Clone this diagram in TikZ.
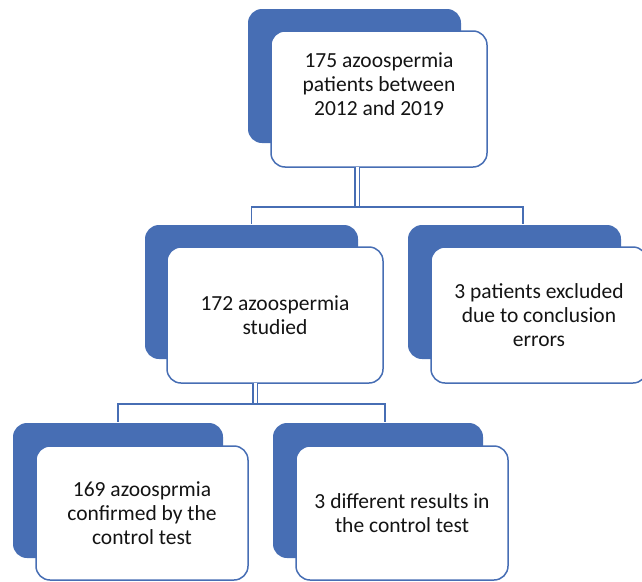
\documentclass[tikz,border=0pt]{standalone}
\usepackage{fontspec}
\setmainfont{Carlito}
\definecolor{acc}{RGB}{71,110,180}
\definecolor{ink}{RGB}{20,20,20}
\begin{document}
\begin{tikzpicture}[x=1pt,y=-1pt,
  back/.style={fill=acc, draw=none, rounded corners=14pt, minimum width=213pt, minimum height=134pt, inner sep=0pt, outer sep=0pt},
  front/.style={fill=white, draw=acc, line width=1.5pt, rounded corners=14pt, minimum width=216pt, minimum height=136pt, inner sep=0pt, outer sep=0pt},
  txt/.style={font=\fontsize{21.5}{24.2}\selectfont, align=center, text=ink},
  conn/.style={draw=acc, line width=1.8pt},
  dbl/.style={draw=acc, line width=1.5pt, double=white, double distance=3pt}]
\useasboundingbox (0,0) rectangle (642,581);

% back (blue) boxes
\node[back] (b1) at (354.5,76) {};
\node[back] (b2) at (251.5,292) {};
\node[back] (b3) at (514.5,292) {};
\node[back, minimum width=210pt, minimum height=135pt] (b4) at (118,490.5) {};
\node[back, minimum width=210pt, minimum height=135pt] (b5) at (378,490.5) {};

% connector junctions
\coordinate (j1) at (357,207);
\coordinate (j2) at (255,404);

% front (white) boxes
\node[front] (w1) at (379,99) {};
\node[txt] (t1) at (379,84) {175 azoospermia\\patients between\\2012 and 2019};
\node[front, txt] (w2) at (275,315) {172 azoospermia\\studied};
\node[front, txt] (w3) at (539,315) {3 patients excluded\\due to conclusion\\errors};
\node[front, txt, minimum width=212pt, minimum height=134pt] (w4) at (142,513) {169 azoosprmia\\confirmed by the\\control test};
\node[front, txt, minimum width=212pt, minimum height=134pt] (w5) at (402,513) {3 different results in\\the control test};

% connectors
\draw[dbl] (w1.south -| j1) -- (j1);
\draw[conn] ([yshift=1.5pt]b2.north) |- (j1) -| ([xshift=8.5pt,yshift=1.5pt]b3.north);
\draw[dbl] (w2.south -| j2) -- (j2);
\draw[conn] ([yshift=1.5pt]b4.north) |- (j2) -| ([xshift=7pt,yshift=1.5pt]b5.north);
\end{tikzpicture}
\end{document}
